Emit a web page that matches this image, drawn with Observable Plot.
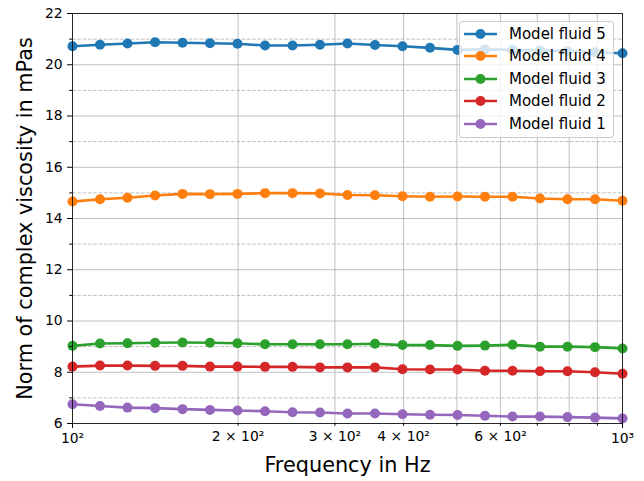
<!DOCTYPE html>
<html>
<head>
<meta charset="utf-8">
<script src="https://cdn.jsdelivr.net/npm/d3@7"></script>
<script src="https://cdn.jsdelivr.net/npm/@observablehq/plot@0.6"></script>
<style>
  body { margin: 0; background: white; }
  #wrap { position: relative; width: 644px; height: 481px; font-family: "DejaVu Sans", sans-serif; }
  #legend { position: absolute; left: 459px; top: 21px; width: 155px; height: 117px;
    background: rgba(255,255,255,0.8); border: 1px solid #cccccc; border-radius: 3px; box-sizing: border-box; }
  .item { position: absolute; left: 0; height: 22px; display: flex; align-items: center; font-size: 15px; color: #000; white-space: nowrap; }
  .item svg { margin-left: 4px; margin-right: 11px; }
</style>
</head>
<body>
<div id="wrap"><div id="legend"></div></div>
<script>
// Frequencies in Hz (21 log-spaced points)
const freqs = [100, 112.2, 125.9, 141.3, 158.5, 177.8, 199.5, 223.9, 251.2, 281.8, 316.2,
               354.8, 398.1, 446.7, 501.2, 562.3, 631.0, 707.9, 794.3, 891.3, 1000];

// Norm of complex viscosity in mPas
const fluid5 = [20.72, 20.78, 20.83, 20.88, 20.86, 20.84, 20.82, 20.75, 20.75, 20.78, 20.83,
                20.77, 20.72, 20.66, 20.58, 20.60, 20.58, 20.56, 20.53, 20.49, 20.45];
const fluid4 = [14.66, 14.75, 14.81, 14.90, 14.96, 14.95, 14.96, 14.99, 14.99, 14.98, 14.92,
                14.91, 14.87, 14.85, 14.86, 14.85, 14.85, 14.78, 14.75, 14.75, 14.69];
const fluid3 = [9.03, 9.12, 9.13, 9.15, 9.16, 9.15, 9.13, 9.09, 9.09, 9.09, 9.09,
                9.11, 9.06, 9.06, 9.03, 9.04, 9.07, 9.00, 9.00, 8.98, 8.93];
const fluid2 = [8.22, 8.26, 8.26, 8.25, 8.25, 8.22, 8.22, 8.21, 8.21, 8.19, 8.19,
                8.19, 8.12, 8.11, 8.11, 8.06, 8.06, 8.04, 8.04, 8.00, 7.94];
const fluid1 = [6.75, 6.68, 6.62, 6.60, 6.56, 6.53, 6.51, 6.48, 6.44, 6.43, 6.39,
                6.39, 6.36, 6.34, 6.33, 6.30, 6.27, 6.27, 6.25, 6.23, 6.20];

const seriesNames = ["Model fluid 5", "Model fluid 4", "Model fluid 3", "Model fluid 2", "Model fluid 1"];
const seriesValues = [fluid5, fluid4, fluid3, fluid2, fluid1];
const seriesColors = ["#1f77b4", "#ff7f0e", "#2ca02c", "#d62728", "#9467bd"];

const xMajorTicks = [100, 1000];
const xMinorTicks = [200, 300, 400, 500, 600, 700, 800, 900];
const xMinorLabeled = [200, 300, 400, 600];
const xTickLabels = {100: "10²", 1000: "10³", 200: "2 × 10²", 300: "3 × 10²", 400: "4 × 10²", 600: "6 × 10²"};
const yMajorTicks = [6, 8, 10, 12, 14, 16, 18, 20, 22];
const yMinorTicks = [7, 9, 11, 13, 15, 17, 19, 21];
const xLabel = "Frequency in Hz";
const yLabel = "Norm of complex viscosity in mPas";

const data = [];
seriesNames.forEach((name, i) => {
  freqs.forEach((f, j) => data.push({series: name, f, v: seriesValues[i][j]}));
});

const gridColor = "#b0b0b0";
const chart = Plot.plot({
  width: 644, height: 481,
  marginLeft: 72, marginRight: 22, marginTop: 13, marginBottom: 58,
  style: {fontFamily: "DejaVu Sans", fontSize: "13.9px", background: "transparent", color: "black"},
  x: {type: "log", domain: [100, 1000]},
  y: {domain: [6, 22]},
  color: {domain: seriesNames, range: seriesColors},
  marks: [
    Plot.ruleX([...xMajorTicks, ...xMinorTicks], {stroke: gridColor, strokeWidth: 0.8}),
    Plot.ruleY(yMajorTicks, {stroke: gridColor, strokeWidth: 0.8}),
    Plot.ruleY(yMinorTicks, {stroke: gridColor, strokeWidth: 0.8, strokeDasharray: "3.7,1.6"}),
    Plot.line(data, {x: "f", y: "v", z: "series", stroke: "series", strokeWidth: 2.6}),
    Plot.dot(data, {x: "f", y: "v", fill: "series", r: 5}),
    Plot.frame({stroke: "black", strokeWidth: 0.8}),
    Plot.axisX({ticks: xMajorTicks, tickFormat: d => xTickLabels[d], tickSize: 4.9, tickPadding: 4.9, label: null, fontSize: 13.9}),
    Plot.axisX({ticks: xMinorTicks, tickFormat: d => xMinorLabeled.includes(d) ? xTickLabels[d] : "", tickSize: 2.8, tickPadding: 4.9, label: null, fontSize: 13.9}),
    Plot.axisY({ticks: yMajorTicks, tickFormat: d => String(d), tickSize: 4.9, tickPadding: 4.9, label: null, fontSize: 13.9}),
    Plot.axisY({ticks: yMinorTicks, tickSize: 2.8, text: null, label: null}),
    Plot.text([xLabel], {frameAnchor: "bottom", textAnchor: "middle", dy: 48, fontSize: 20.8, text: d => d}),
    Plot.text([yLabel], {frameAnchor: "left", textAnchor: "middle", dx: -47, rotate: -90, fontSize: 20.8, text: d => d})
  ]
});
const wrap = document.getElementById("wrap");
wrap.insertBefore(chart, wrap.firstChild);

const legend = document.getElementById("legend");
seriesNames.forEach((name, i) => {
  const item = document.createElement("div");
  item.className = "item";
  item.style.top = (0.5 + i * 22.5) + "px";
  item.innerHTML = `<svg width="34" height="12"><line x1="0" y1="6" x2="33" y2="6" stroke="${seriesColors[i]}" stroke-width="2.6"/><circle cx="16.5" cy="6" r="5" fill="${seriesColors[i]}"/></svg><span>${name}</span>`;
  legend.appendChild(item);
});
</script>
</body>
</html>
